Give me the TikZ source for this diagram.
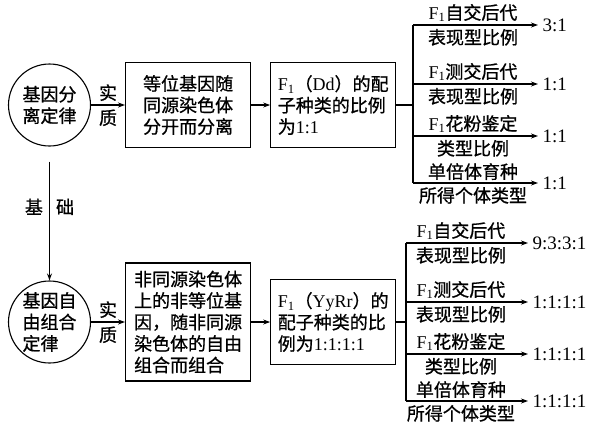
\documentclass[tikz,border=0pt]{standalone}
\usepackage{fontspec}
\setmainfont{Liberation Serif}
\newfontfamily\cjk[FakeBold=0.8]{Noto Sans CJK SC}
\usepackage{tikz}
\usetikzlibrary{arrows.meta, positioning}

\newcommand{\Fy}{{\rmfamily F\textsubscript{1}}}
\newcommand{\lat}[1]{{\rmfamily #1}}

\begin{document}
\begin{tikzpicture}[
    x=1pt, y=-1pt,
    line width=1.1pt,
    font={\fontsize{18}{21.5}\cjk},
    law/.style={circle, draw, minimum size=82pt, inner sep=0pt},
    box/.style={rectangle, draw, minimum width=125pt, minimum height=85pt, inner sep=4pt, align=left},
    arrow/.style={-{Stealth[length=7pt, width=5pt]}},
    tag/.style={inner sep=1pt},
    result/.style={anchor=west, inner sep=4pt, font={\fontsize{19}{21.5}\rmfamily}}
]
    \useasboundingbox (0,0) rectangle (604,432);

    % separation law
    \node[law, align=center] (law1) at (49.5,105) {基因分\\离定律};
    \node[box, right=34pt of law1, align=center] (cause1) {等位基因随\\同源染色体\\分开而分离};
    \node[box, right=19pt of cause1] (ratio1) {\Fy（\lat{Dd}）的配\\子种类的比例\\为\lat{1:1}};

    \draw[arrow] (law1) -- (cause1) node[tag, midway, above=2.5pt] {实} node[tag, midway, below=3pt] {质};
    \draw[arrow] (cause1) -- (ratio1);

    \coordinate (f1a) at (413,25);
    \coordinate (f1b) at (413,84);
    \coordinate (f1c) at (413,136);
    \coordinate (f1d) at (413,183);
    \node[result] (r1a) at (538,25) {3:1};
    \node[result] (r1b) at (538,84) {1:1};
    \node[result] (r1c) at (538,136) {1:1};
    \node[result] (r1d) at (538,183) {1:1};

    \draw (ratio1.east) -- (ratio1.east -| f1a);
    \draw (f1a) -- (f1d);
    \draw[arrow] (f1a) -- (r1a.west) node[tag, pos=0.48, above=1.5pt] {\Fy 自交后代} node[tag, pos=0.48, below=2.5pt] {表现型比例};
    \draw[arrow] (f1b) -- (r1b.west) node[tag, pos=0.48, above=1.5pt] {\Fy 测交后代} node[tag, pos=0.48, below=2.5pt] {表现型比例};
    \draw[arrow] (f1c) -- (r1c.west) node[tag, pos=0.48, above=1.5pt] {\Fy 花粉鉴定} node[tag, pos=0.48, below=2.5pt] {类型比例};
    \draw[arrow] (f1d) -- (r1d.west) node[tag, pos=0.48, above=1.5pt] {单倍体育种} node[tag, pos=0.48, below=2.5pt] {所得个体类型};

    % independent assortment law
    \node[law, align=left] (law2) at (49.5,322) {基因自\\由组合\\定律};
    \node[box, right=34pt of law2, minimum height=118pt] (cause2) {非同源染色体\\上的非等位基\\因，随非同源\\染色体的自由\\组合而组合};
    \node[box, right=19pt of cause2] (ratio2) {\Fy（\lat{YyRr}）的\\配子种类的比\\例为\lat{1:1:1:1}};

    \draw[arrow, shorten <=15pt] (law1) -- (law2) node[tag, pos=0.45, left=5pt] {基} node[tag, pos=0.45, right=5pt] {础};
    \draw[arrow] (law2) -- (cause2) node[tag, midway, above=2.5pt] {实} node[tag, midway, below=3pt] {质};
    \draw[arrow] (cause2) -- (ratio2);

    \coordinate (f2a) at (406,243);
    \coordinate (f2b) at (406,302);
    \coordinate (f2c) at (406,354);
    \coordinate (f2d) at (406,401);
    \node[result] (r2a) at (528,243) {9:3:3:1};
    \node[result] (r2b) at (528,302) {1:1:1:1};
    \node[result] (r2c) at (528,354) {1:1:1:1};
    \node[result] (r2d) at (528,401) {1:1:1:1};

    \draw (ratio2.east) -- (ratio2.east -| f2a);
    \draw (f2a) -- (f2d);
    \draw[arrow] (f2a) -- (r2a.west) node[tag, pos=0.45, above=1.5pt] {\Fy 自交后代} node[tag, pos=0.45, below=2.5pt] {表现型比例};
    \draw[arrow] (f2b) -- (r2b.west) node[tag, pos=0.45, above=1.5pt] {\Fy 测交后代} node[tag, pos=0.45, below=2.5pt] {表现型比例};
    \draw[arrow] (f2c) -- (r2c.west) node[tag, pos=0.45, above=1.5pt] {\Fy 花粉鉴定} node[tag, pos=0.45, below=2.5pt] {类型比例};
    \draw[arrow] (f2d) -- (r2d.west) node[tag, pos=0.45, above=1.5pt] {单倍体育种} node[tag, pos=0.45, below=2.5pt] {所得个体类型};
\end{tikzpicture}
\end{document}
